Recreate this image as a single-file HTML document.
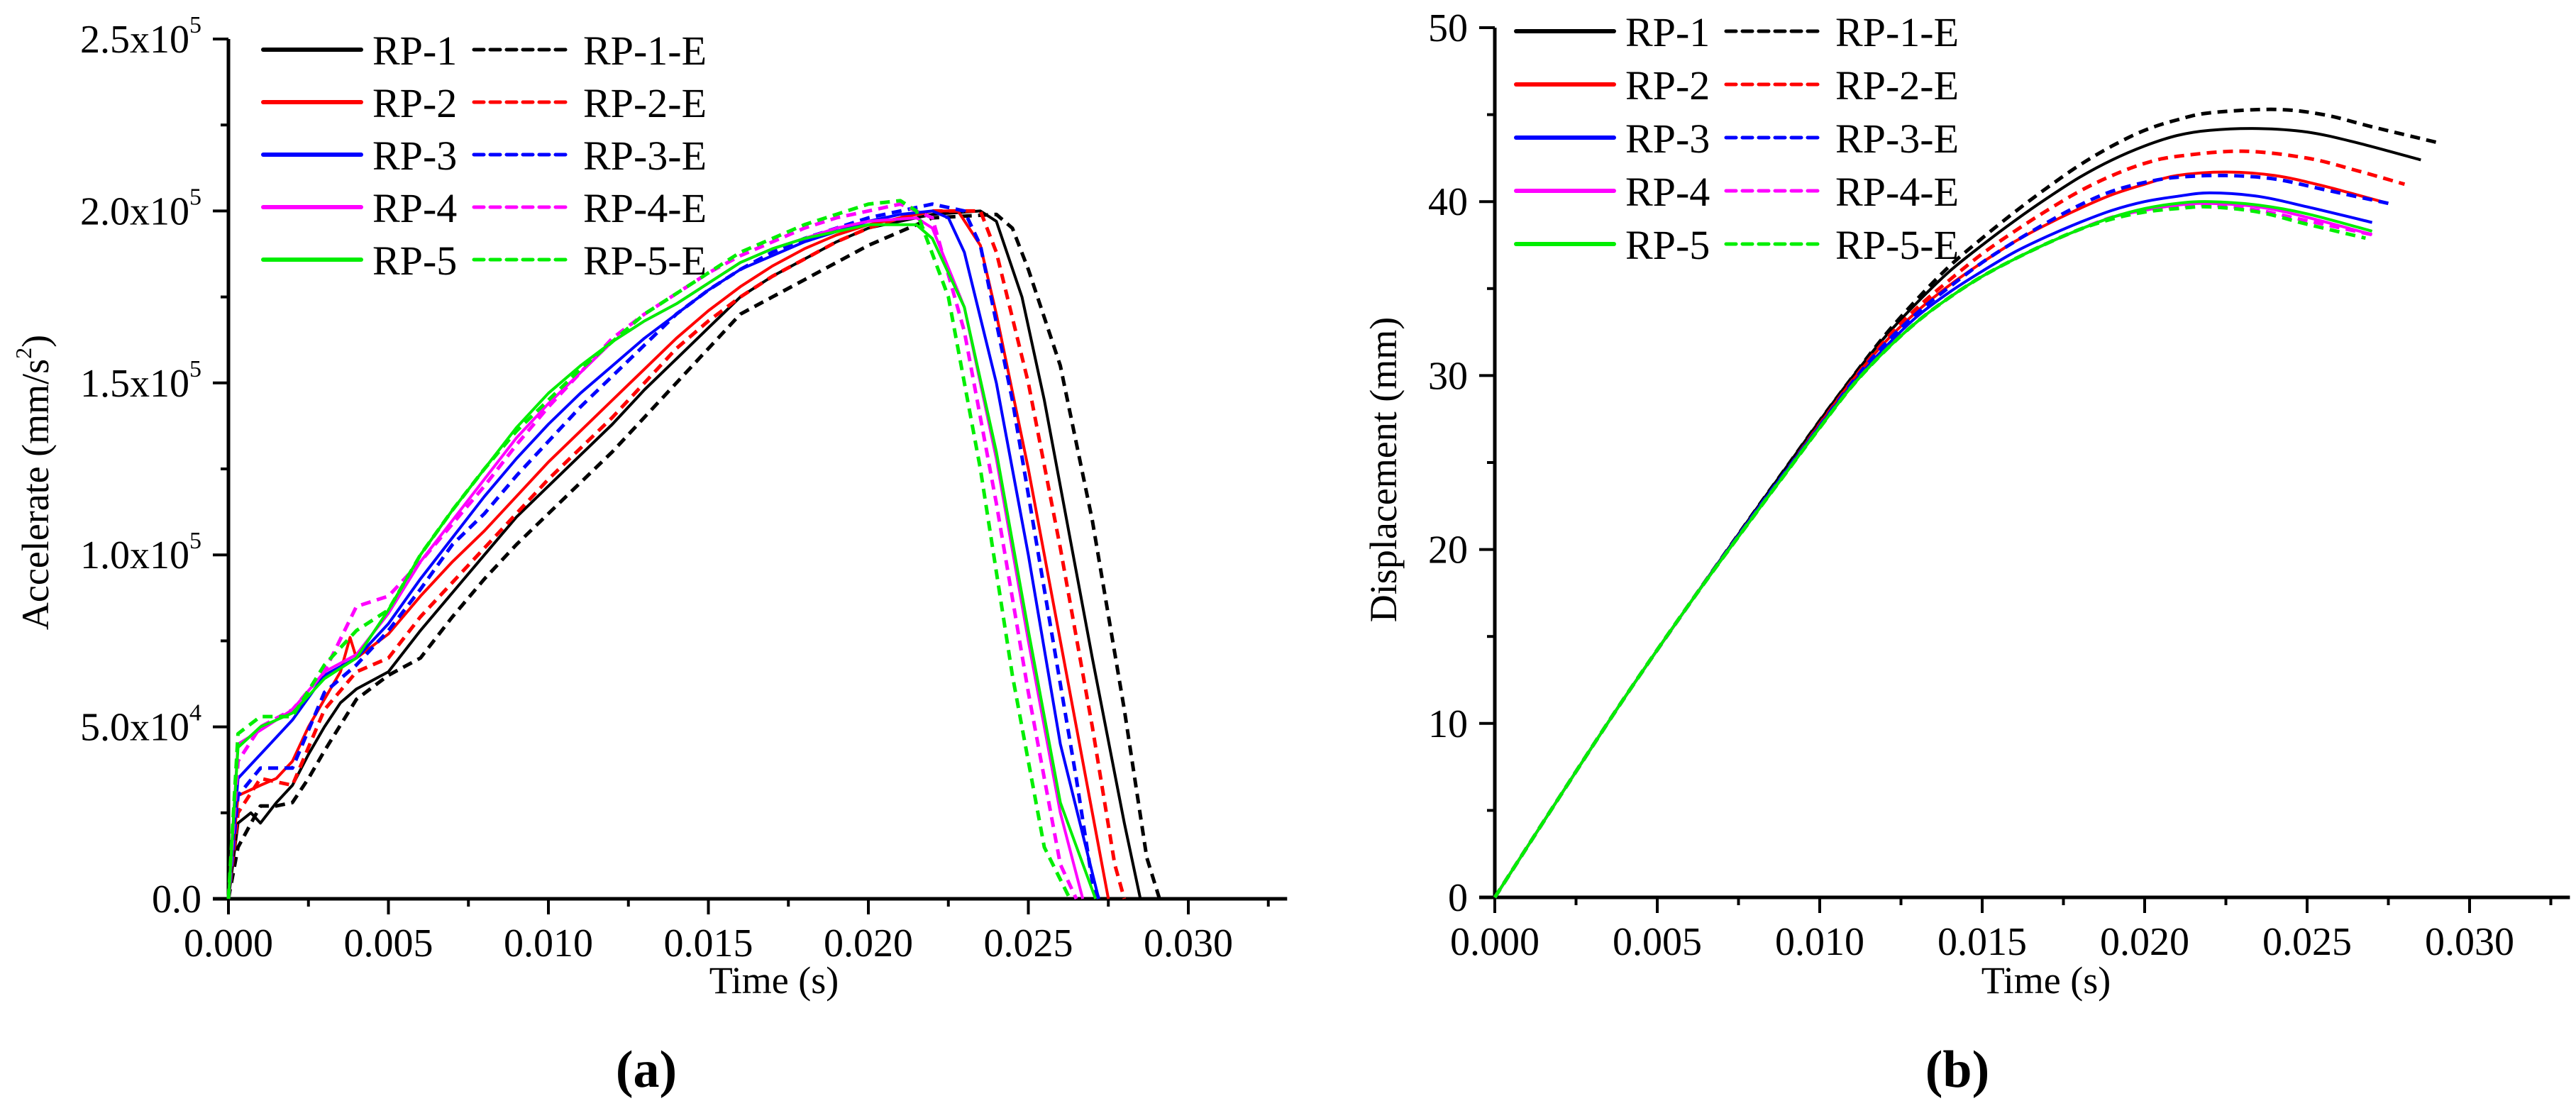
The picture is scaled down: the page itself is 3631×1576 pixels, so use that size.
<!DOCTYPE html>
<html><head><meta charset="utf-8"><style>
html,body{margin:0;padding:0;background:#fff;}
svg{display:block;}
text{font-family:"Liberation Serif","Times New Roman",serif;}
</style></head><body>
<svg id="fig" width="3631" height="1576" viewBox="0 0 3631 1576" font-family="Liberation Serif, serif">
<g id="pa"></g>
<g id="pb"></g>
<text x="911" y="1532" font-size="74" font-weight="bold" text-anchor="middle">(a)</text>
<text x="2759" y="1532" font-size="74" font-weight="bold" text-anchor="middle">(b)</text>
</svg>
<script>
const seriesNames=["RP-1","RP-1-E","RP-2","RP-2-E","RP-3","RP-3-E","RP-4","RP-4-E","RP-5","RP-5-E"];
const seriesColors=["#000","#000","#f00","#f00","#00f","#00f","#f0f","#f0f","#0e0","#0e0"];
const xTicks=[0,0.005,0.010,0.015,0.020,0.025,0.030];
const xTickLabels=["0.000","0.005","0.010","0.015","0.020","0.025","0.030"];
const accTicks=[0,50000,100000,150000,200000,250000];
const accTickMant=["0.0","5.0x10","1.0x10","1.5x10","2.0x10","2.5x10"];
const accTickExp=["","4","5","5","5","5"];
const dispTicks=[0,10,20,30,40,50];
const dispTickLabels=["0","10","20","30","40","50"];
// acceleration series [t, a]
const acc1=[[0,0],[0.0003,22000],[0.0007,25000],[0.001,22000],[0.0015,28000],[0.002,33000],[0.0025,42000],[0.003,50000],[0.0035,57000],[0.004,61000],[0.005,66000],[0.006,78000],[0.007,89000],[0.008,100000],[0.009,111000],[0.010,120000],[0.011,129000],[0.012,138000],[0.013,148000],[0.014,157000],[0.015,166000],[0.016,175000],[0.017,181000],[0.018,186000],[0.019,191000],[0.020,195000],[0.021,197000],[0.022,199000],[0.0235,200000],[0.024,197000],[0.0248,175000],[0.0255,145000],[0.026,120000],[0.027,70000],[0.028,22000],[0.0285,0]];
const acc1e=[[0,0],[0.0003,15000],[0.001,27000],[0.0015,27000],[0.002,28000],[0.0025,35000],[0.003,43000],[0.004,58000],[0.005,65000],[0.006,70000],[0.007,82000],[0.008,93000],[0.009,103000],[0.010,112000],[0.011,121000],[0.012,130000],[0.013,140000],[0.014,150000],[0.015,160000],[0.016,170000],[0.017,175000],[0.018,180000],[0.019,185000],[0.020,190000],[0.021,194000],[0.022,198000],[0.024,199000],[0.0245,195000],[0.025,183000],[0.026,155000],[0.027,110000],[0.028,55000],[0.0287,12000],[0.0291,0]];
const acc2=[[0,0],[0.0003,30000],[0.001,33000],[0.0015,35000],[0.002,40000],[0.0025,50000],[0.003,58000],[0.0035,66000],[0.0038,76000],[0.004,70000],[0.005,77000],[0.006,88000],[0.007,98000],[0.008,107000],[0.009,117000],[0.010,127000],[0.011,136000],[0.012,145000],[0.013,154000],[0.014,163000],[0.015,171000],[0.016,178000],[0.017,184000],[0.018,189000],[0.019,193000],[0.020,196000],[0.021,198000],[0.022,200000],[0.0228,200000],[0.0235,190000],[0.024,170000],[0.025,125000],[0.026,75000],[0.027,25000],[0.0275,0]];
const acc2e=[[0,0],[0.0003,25000],[0.001,35000],[0.002,33000],[0.003,55000],[0.004,66000],[0.005,70000],[0.006,82000],[0.007,92000],[0.008,102000],[0.009,112000],[0.010,122000],[0.011,131000],[0.012,140000],[0.013,150000],[0.014,160000],[0.015,168000],[0.016,175000],[0.017,181000],[0.018,186000],[0.019,191000],[0.020,195000],[0.021,198000],[0.022,200000],[0.0235,200000],[0.024,188000],[0.025,150000],[0.026,102000],[0.027,50000],[0.0277,10000],[0.028,0]];
const acc3=[[0,0],[0.0003,35000],[0.001,42000],[0.002,52000],[0.003,65000],[0.004,70000],[0.005,80000],[0.006,93000],[0.007,105000],[0.008,117000],[0.009,128000],[0.010,138000],[0.011,147000],[0.012,155000],[0.013,163000],[0.014,170000],[0.015,177000],[0.016,183000],[0.017,187000],[0.018,191000],[0.019,194000],[0.020,197000],[0.021,199000],[0.022,200000],[0.0225,198000],[0.023,188000],[0.024,150000],[0.025,100000],[0.026,45000],[0.0272,0]];
const acc3e=[[0,0],[0.0003,30000],[0.001,38000],[0.002,38000],[0.003,60000],[0.004,68000],[0.005,78000],[0.006,90000],[0.007,103000],[0.008,112000],[0.009,123000],[0.010,133000],[0.011,143000],[0.012,152000],[0.013,161000],[0.014,170000],[0.015,177000],[0.016,183000],[0.017,188000],[0.018,192000],[0.019,195000],[0.020,198000],[0.021,200000],[0.022,202000],[0.023,200000],[0.0235,190000],[0.0245,145000],[0.0255,90000],[0.0265,35000],[0.027,5000],[0.0272,0]];
const acc4=[[0,0],[0.0003,45000],[0.001,49000],[0.002,55000],[0.003,66000],[0.004,71000],[0.005,83000],[0.006,98000],[0.007,110000],[0.008,122000],[0.009,134000],[0.010,144000],[0.011,153000],[0.012,162000],[0.013,168000],[0.014,173000],[0.015,179000],[0.016,185000],[0.017,189000],[0.018,192000],[0.019,195000],[0.020,197000],[0.0215,198000],[0.022,195000],[0.023,172000],[0.024,128000],[0.025,75000],[0.026,25000],[0.0267,0]];
const acc4e=[[0,0],[0.0003,40000],[0.001,50000],[0.002,55000],[0.003,66000],[0.004,85000],[0.005,88000],[0.006,98000],[0.007,109000],[0.008,120000],[0.009,132000],[0.010,143000],[0.011,153000],[0.012,163000],[0.013,170000],[0.014,176000],[0.015,182000],[0.016,187000],[0.017,191000],[0.018,195000],[0.019,198000],[0.020,200000],[0.021,202000],[0.022,198000],[0.023,165000],[0.024,115000],[0.025,60000],[0.026,10000],[0.0265,0]];
const acc5=[[0,0],[0.0003,44000],[0.001,50000],[0.002,54000],[0.003,64000],[0.004,70000],[0.005,84000],[0.006,100000],[0.007,113000],[0.008,125000],[0.009,137000],[0.010,147000],[0.011,155000],[0.012,162000],[0.013,168000],[0.014,173000],[0.015,179000],[0.016,185000],[0.017,189000],[0.018,192000],[0.019,194000],[0.020,196000],[0.0215,196000],[0.022,192000],[0.023,172000],[0.024,130000],[0.025,78000],[0.026,28000],[0.0271,0]];
const acc5e=[[0,0],[0.0003,48000],[0.001,53000],[0.002,53000],[0.003,68000],[0.004,78000],[0.005,84000],[0.006,100000],[0.007,113000],[0.008,125000],[0.009,136000],[0.010,145000],[0.011,154000],[0.012,162000],[0.013,170000],[0.014,176000],[0.015,182000],[0.016,188000],[0.017,192000],[0.018,196000],[0.019,199000],[0.020,202000],[0.021,203000],[0.0215,200000],[0.0225,175000],[0.0235,125000],[0.0245,65000],[0.0255,15000],[0.0263,0]];
// displacement series [t, mm]
const dsp1=[[0,0],[0.002,5.8],[0.004,11.5],[0.006,16.9],[0.008,22.2],[0.009,24.8],[0.010,27.4],[0.011,29.9],[0.012,32.2],[0.013,34.2],[0.014,36],[0.015,37.5],[0.016,38.9],[0.017,40.2],[0.018,41.4],[0.019,42.4],[0.020,43.2],[0.021,43.8],[0.022,44.1],[0.0235,44.2],[0.025,44],[0.0265,43.4],[0.0285,42.4]];
const dsp1e=[[0,0],[0.002,5.8],[0.004,11.5],[0.006,16.9],[0.008,22.2],[0.009,24.8],[0.010,27.4],[0.011,29.9],[0.012,32.3],[0.013,34.4],[0.014,36.3],[0.015,37.9],[0.016,39.4],[0.017,40.8],[0.018,42.1],[0.019,43.2],[0.020,44.1],[0.021,44.7],[0.022,45.1],[0.024,45.3],[0.0255,45],[0.027,44.3],[0.029,43.4]];
const dsp2=[[0,0],[0.002,5.8],[0.004,11.5],[0.006,16.9],[0.008,22.1],[0.009,24.6],[0.010,27.2],[0.011,29.7],[0.012,31.9],[0.013,33.7],[0.014,35.2],[0.015,36.5],[0.016,37.7],[0.017,38.7],[0.018,39.6],[0.019,40.4],[0.020,41],[0.021,41.5],[0.0225,41.7],[0.024,41.5],[0.0255,40.9],[0.0275,39.9]];
const dsp2e=[[0,0],[0.002,5.8],[0.004,11.5],[0.006,16.9],[0.008,22.1],[0.009,24.6],[0.010,27.2],[0.011,29.7],[0.012,32],[0.013,33.9],[0.014,35.5],[0.015,37],[0.016,38.3],[0.017,39.5],[0.018,40.6],[0.019,41.5],[0.020,42.2],[0.021,42.6],[0.023,42.9],[0.025,42.5],[0.0265,41.8],[0.028,41]];
const dsp3=[[0,0],[0.002,5.8],[0.004,11.5],[0.006,16.9],[0.008,22.1],[0.009,24.6],[0.010,27.1],[0.011,29.5],[0.012,31.6],[0.013,33.4],[0.014,34.8],[0.015,36],[0.016,37.1],[0.017,38],[0.018,38.8],[0.019,39.5],[0.020,40],[0.021,40.3],[0.022,40.5],[0.0235,40.3],[0.025,39.7],[0.027,38.8]];
const dsp3e=[[0,0],[0.002,5.8],[0.004,11.5],[0.006,16.9],[0.008,22.1],[0.009,24.6],[0.010,27.1],[0.011,29.6],[0.012,31.8],[0.013,33.6],[0.014,35.1],[0.015,36.5],[0.016,37.7],[0.017,38.8],[0.018,39.8],[0.019,40.6],[0.020,41.1],[0.021,41.4],[0.0225,41.5],[0.024,41.3],[0.0255,40.7],[0.0275,39.9]];
const dsp4=[[0,0],[0.002,5.8],[0.004,11.5],[0.006,16.9],[0.008,22],[0.009,24.5],[0.010,27],[0.011,29.4],[0.012,31.4],[0.013,33.1],[0.014,34.5],[0.015,35.7],[0.016,36.7],[0.017,37.6],[0.018,38.4],[0.019,39.1],[0.020,39.5],[0.021,39.8],[0.022,39.9],[0.0235,39.7],[0.025,39.1],[0.027,38.1]];
const dsp4e=[[0,0],[0.002,5.8],[0.004,11.5],[0.006,16.9],[0.008,22],[0.009,24.5],[0.010,27],[0.011,29.4],[0.012,31.4],[0.013,33.1],[0.014,34.5],[0.015,35.7],[0.016,36.7],[0.017,37.6],[0.018,38.4],[0.019,39.1],[0.020,39.5],[0.021,39.7],[0.022,39.8],[0.0235,39.5],[0.025,38.9],[0.027,38.1]];
const dsp5=[[0,0],[0.002,5.8],[0.004,11.5],[0.006,16.9],[0.008,22],[0.009,24.5],[0.010,27],[0.011,29.4],[0.012,31.4],[0.013,33.1],[0.014,34.5],[0.015,35.7],[0.016,36.7],[0.017,37.6],[0.018,38.4],[0.019,39.1],[0.020,39.6],[0.021,39.9],[0.022,40],[0.0235,39.8],[0.025,39.3],[0.027,38.3]];
const dsp5e=[[0,0],[0.002,5.8],[0.004,11.5],[0.006,16.9],[0.008,22],[0.009,24.5],[0.010,27],[0.011,29.4],[0.012,31.4],[0.013,33.1],[0.014,34.5],[0.015,35.7],[0.016,36.7],[0.017,37.6],[0.018,38.4],[0.019,39.0],[0.020,39.4],[0.021,39.6],[0.022,39.7],[0.0235,39.4],[0.025,38.7],[0.0268,37.9]];
const accSeries=[acc1,acc1e,acc2,acc2e,acc3,acc3e,acc4,acc4e,acc5,acc5e];
const dspSeries=[dsp1,dsp1e,dsp2,dsp2e,dsp3,dsp3e,dsp4,dsp4e,dsp5,dsp5e];

const NS="http://www.w3.org/2000/svg";
const FF="Liberation Serif, Times New Roman, serif";
function mk(parent,tag,attrs,text){const e=document.createElementNS(NS,tag);for(const k in attrs)e.setAttribute(k,attrs[k]);if(tag==="text")e.setAttribute("font-family",FF);if(text!==undefined)e.textContent=text;parent.appendChild(e);return e;}

function drawChart(g,cfg){
  const sx=t=>cfg.x0+(t/0.005)*cfg.xstep;
  const sy=v=>cfg.y0-(v-cfg.ymin)/(cfg.ymax-cfg.ymin)*(cfg.y0-cfg.ytop);
  const xend=sx(0.033)+4;
  let ax=mk(g,"line",{x1:cfg.x0,y1:cfg.ytop,x2:cfg.x0,y2:cfg.y0+2,stroke:"#000","stroke-width":5});
  
  
  ax=mk(g,"line",{x1:cfg.x0-22,y1:cfg.y0,x2:xend,y2:cfg.y0,stroke:"#000","stroke-width":5});
  
  
  for(let i=0;i<=13;i++){
    const t=i*0.0025, major=i%2===0, x=sx(t);
    const tk=mk(g,"line",{x1:x,y1:cfg.y0,x2:x,y2:cfg.y0+(major?22:11),stroke:"#000","stroke-width":4});
    
    
  }
  xTicks.forEach((t,i)=>{
    const tl=mk(g,"text",{x:sx(t),y:cfg.y0+81,"font-size":56,"text-anchor":"middle"},xTickLabels[i]);
    
    
  });
  const yt=cfg.yticks;
  for(let i=0;i<yt.length;i++){
    const y=sy(yt[i]);
    const tk=mk(g,"line",{x1:cfg.x0-22,y1:y,x2:cfg.x0,y2:y,stroke:"#000","stroke-width":4});
    
    
    if(i<yt.length-1){
      const ym=sy((yt[i]+yt[i+1])/2);
      const mt=mk(g,"line",{x1:cfg.x0-11,y1:ym,x2:cfg.x0,y2:ym,stroke:"#000","stroke-width":4});
      
      
    }
    const lab=mk(g,"text",{x:cfg.x0-38,y:y+19,"font-size":56,"text-anchor":"end"});
    
    
    if(cfg.exp&&cfg.exp[i]){
      mk(lab,"tspan",{},cfg.labels[i]);
      mk(lab,"tspan",{"font-size":34,dy:-28},cfg.exp[i]);
    } else lab.textContent=cfg.labels[i];
  }
  const xt=mk(g,"text",{x:cfg.xtitleX,y:1400,"font-size":54,"text-anchor":"middle"},"Time (s)");
  
  
  const ytl=mk(g,"text",{transform:`translate(${cfg.ytitleX},${cfg.ytitleY}) rotate(-90)`,"font-size":54,"text-anchor":"middle"});
  
  
  if(cfg.ysup){mk(ytl,"tspan",{},cfg.ytitle);mk(ytl,"tspan",{"font-size":32,dy:-24},"2");mk(ytl,"tspan",{dy:24},")");}
  else ytl.textContent=cfg.ytitle;
  cfg.series.forEach((pts,k)=>{
    const P=pts.map(p=>[sx(p[0]),sy(p[1])]);
    let d="M"+P[0][0].toFixed(1)+","+P[0][1].toFixed(1);
    if(cfg.smooth){
      for(let i=0;i<P.length-1;i++){
        const p0=P[Math.max(i-1,0)],p1=P[i],p2=P[i+1],p3=P[Math.min(i+2,P.length-1)];
        const c1=[p1[0]+(p2[0]-p0[0])/6,p1[1]+(p2[1]-p0[1])/6];
        const c2=[p2[0]-(p3[0]-p1[0])/6,p2[1]-(p3[1]-p1[1])/6];
        d+=`C${c1[0].toFixed(1)},${c1[1].toFixed(1)} ${c2[0].toFixed(1)},${c2[1].toFixed(1)} ${p2[0].toFixed(1)},${p2[1].toFixed(1)}`;
      }
    } else for(let i=1;i<P.length;i++) d+="L"+P[i][0].toFixed(1)+","+P[i][1].toFixed(1);
    const dashed=k%2===1;
    const path=mk(g,"path",{d:d,fill:"none",stroke:seriesColors[k],"stroke-width":dashed?5:4,"stroke-dasharray":dashed?"14 9":"none","stroke-linejoin":"round"});
    
    
  });
  for(let r=0;r<5;r++){
    for(let c=0;c<2;c++){
      const k=r*2+c, y=cfg.legY+r*cfg.legStep, lx=c===0?cfg.legX1:cfg.legX2;
      const ln=mk(g,"line",{x1:lx,y1:y,x2:lx+138,y2:y,stroke:seriesColors[k],"stroke-width":c?5:6,"stroke-dasharray":c?"14 9":"none","stroke-linecap":"round"});
      
      
      const tx=mk(g,"text",{x:lx+154,y:y+21,"font-size":58},seriesNames[k]);
      
      
    }
  }
}
drawChart(document.getElementById("pa"),{x0:322,xstep:225.5,y0:1267,ytop:55,ymin:0,ymax:250000,yticks:accTicks,labels:accTickMant,exp:accTickExp,series:accSeries,smooth:false,xtitleX:1091,ytitleX:68,ytitleY:680,ytitle:"Accelerate (mm/s",ysup:true,legX1:371,legX2:668,legY:70,legStep:74});
drawChart(document.getElementById("pb"),{x0:2107,xstep:229,y0:1265,ytop:39,ymin:0,ymax:50,yticks:dispTicks,labels:dispTickLabels,exp:null,series:dspSeries,smooth:true,xtitleX:2884,ytitleX:1968,ytitleY:662,ytitle:"Displacement (mm)",ysup:false,legX1:2137,legX2:2433,legY:44,legStep:75});
</script>
</body></html>
